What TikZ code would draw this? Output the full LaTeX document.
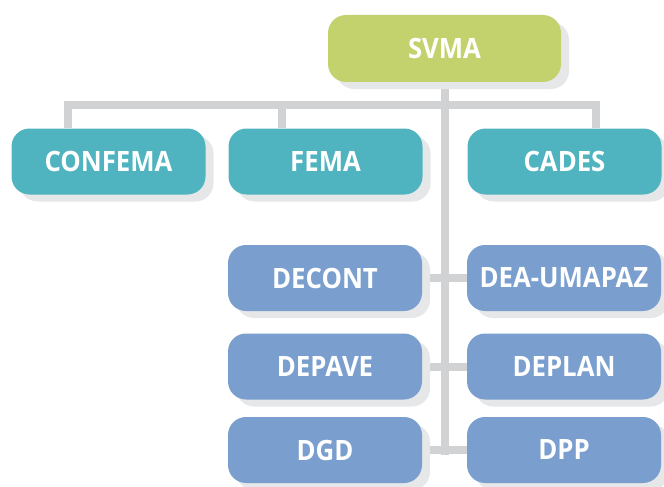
\documentclass[tikz,border=0pt]{standalone}
\usepackage{fontspec}
\setmainfont{Open Sans}[FakeStretch=0.92]
\usetikzlibrary{shadows,backgrounds}
\definecolor{svmagreen}{HTML}{C4D26E}
\definecolor{tealbox}{HTML}{4FB4BF}
\definecolor{bluebox}{HTML}{7A9FCE}
\definecolor{linegray}{HTML}{D1D2D4}
\definecolor{shadowgray}{HTML}{E6E7E8}
\tikzset{
  orgbox/.style={rectangle, rounded corners=18pt, minimum width=194pt, minimum height=66pt,
    inner sep=0pt, text=white, font=\fontsize{28}{30}\selectfont\bfseries,
    drop shadow={shadow xshift=8pt, shadow yshift=-7pt, fill=shadowgray, opacity=1}},
  topbox/.style={orgbox, fill=svmagreen, minimum width=233pt, minimum height=67pt},
  tealnode/.style={orgbox, fill=tealbox},
  bluenode/.style={orgbox, fill=bluebox},
  link/.style={draw=linegray, line width=8pt, line cap=butt}
}
\begin{document}
\begin{tikzpicture}[x=1pt,y=-1pt]
\useasboundingbox (0,0) rectangle (664,487);
\node[topbox] (svma) at (444.5,48.5) {SVMA};
\node[tealnode] (confema) at (108.5,161.5) {CONFEMA};
\node[tealnode] (fema) at (325.5,161.5) {FEMA};
\node[tealnode] (cades) at (564.5,161.5) {CADES};
\node[bluenode] (decont) at (325,278) {DECONT};
\node[bluenode] (deaumapaz) at (564,278) {DEA-UMAPAZ};
\node[bluenode] (depave) at (325,366.5) {DEPAVE};
\node[bluenode] (deplan) at (564,366.5) {DEPLAN};
\node[bluenode] (dgd) at (325,450) {DGD};
\node[bluenode] (dpp) at (564,450) {DPP};
\coordinate (barL) at (64,105);
\coordinate (barR) at (600,105);
\coordinate (stubA) at (68,105);
\coordinate (stubB) at (282,105);
\coordinate (stubC) at (596,105);
\coordinate (vend) at (445,455);
\begin{scope}[on background layer]
  \draw[link] (barL) -- (barR);
  \draw[link] (svma.south -| vend) -- (vend);
  \draw[link] (stubA) -- (stubA |- confema.north);
  \draw[link] (stubB) -- (stubB |- fema.north);
  \draw[link] (stubC) -- (stubC |- cades.north);
  \draw[link] (decont.east) -- (deaumapaz.west);
  \draw[link] (depave.east) -- (deplan.west);
  \draw[link] (dgd.east) -- (dpp.west);
\end{scope}
\end{tikzpicture}
\end{document}
